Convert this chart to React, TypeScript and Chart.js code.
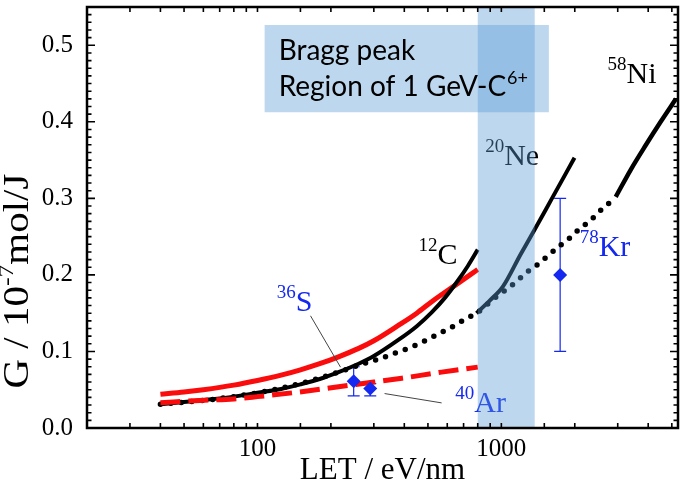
import { useEffect, useRef } from 'react';
import { Chart, registerables } from 'chart.js';

Chart.register(...registerables);

// ---------------- data (LET in eV/nm, G in 10^-7 mol/J) ----------------
const redSolidLET = [40, 50, 60, 80, 100, 125, 150, 180, 215, 260, 300, 378, 450, 518, 650, 800];
const redSolidG = [0.044, 0.047, 0.05, 0.056, 0.062, 0.069, 0.076, 0.084, 0.093, 0.104, 0.114, 0.134, 0.15, 0.165, 0.187, 0.207];

const redDashLET = [40, 58, 80, 100, 148, 215, 300, 391, 569, 800];
const redDashG = [0.033, 0.036, 0.038, 0.041, 0.047, 0.054, 0.06, 0.065, 0.073, 0.0795];

const c12LET = [40, 58, 80, 100, 125, 150, 180, 215, 260, 300, 378, 450, 518, 590, 665, 730, 800];
const c12G = [0.031, 0.036, 0.041, 0.046, 0.051, 0.057, 0.064, 0.073, 0.084, 0.094, 0.115, 0.133, 0.151, 0.171, 0.193, 0.212, 0.233];

const dottedLET = [40, 60, 80, 100, 150, 215, 260, 314, 367, 430, 487, 569, 645, 709, 791, 940, 1048, 1151, 1265, 1413, 1552, 1720, 1903, 2089, 2317, 2545, 2815, 2945];
const dottedG = [0.031, 0.036, 0.041, 0.046, 0.058, 0.073, 0.082, 0.09, 0.098, 0.106, 0.114, 0.125, 0.134, 0.142, 0.15, 0.17, 0.181, 0.191, 0.203, 0.214, 0.225, 0.237, 0.248, 0.26, 0.271, 0.284, 0.296, 0.302];

const ne20LET = [791, 900, 1016, 1200, 1368, 1600, 1995];
const ne20G = [0.15, 0.167, 0.185, 0.227, 0.259, 0.298, 0.353];

const ni58LET = [2945, 3400, 3900, 4500, 5200];
const ni58G = [0.302, 0.338, 0.369, 0.4, 0.43];

const expLET = [248, 290, 1742];
const expG = [0.061, 0.0515, 0.2];
const expLow = [0.042, 0.042, 0.1];
const expHigh = [0.08, 0.058, 0.3];

const sLeaderLET = [165, 219];
const sLeaderG = [0.1466, 0.0795];
const arLeaderLET = [332, 569];
const arLeaderG = [0.045, 0.0328];

const labelSup = ['58', '20', '12', '36', '40', '78'];
const labelMain = ['Ni', 'Ne', 'C', 'S', 'Ar', 'Kr'];
const labelLET = [2726, 858, 457, 120, 647, 2094];
const labelG = [0.451, 0.3437, 0.214, 0.153, 0.0208, 0.2244];
const labelBlue = [false, false, false, true, true, true];

const braggBandLET = [800, 1370];
const braggBoxLET = [107, 1566];
const braggBoxG = [0.4125, 0.5265];

const xLabeledTicks = [100, 1000];
const xMin = 20;
const xMax = 5300;
const yMin = 0;
const yMax = 0.55;
const yMinorStep = 0.01;

const xTitle = 'LET / eV/nm';
const yTitleParts = ['G / 10', '-7', 'mol/J'];
const braggLine1 = 'Bragg peak';
const braggLine2 = ['Region of 1 GeV-C', '6+'];

// ---------------- styles ----------------
const BLUE = 'rgb(20,40,240)';
const RED = 'rgb(250,12,12)';
const SERIF = '"Liberation Serif", "Times New Roman", serif';
const SANS = 'Lato, "Open Sans", sans-serif';
const BAND = 'rgba(91,155,213,0.4)';

const pts = (xs: number[], ys: number[]) => xs.map((x, i) => ({ x, y: ys[i] }));

const errorBarPlugin = {
  id: 'errorBars',
  beforeDatasetsDraw(chart: any) {
    const { ctx, scales } = chart;
    const xs = scales.x, ys = scales.y;
    ctx.save();
    ctx.strokeStyle = BLUE;
    ctx.lineWidth = 1.2;
    expLET.forEach((x, i) => {
      const px = xs.getPixelForValue(x);
      const lo = ys.getPixelForValue(expLow[i]);
      const hi = ys.getPixelForValue(expHigh[i]);
      ctx.beginPath();
      ctx.moveTo(px, lo); ctx.lineTo(px, hi);
      ctx.moveTo(px - 6, lo); ctx.lineTo(px + 6, lo);
      ctx.moveTo(px - 6, hi); ctx.lineTo(px + 6, hi);
      ctx.stroke();
    });
    ctx.restore();
  },
};

const overlayPlugin = {
  id: 'overlays',
  afterDatasetsDraw(chart: any) {
    const { ctx, scales, chartArea: a } = chart;
    const xs = scales.x, ys = scales.y;
    ctx.save();
    ctx.textBaseline = 'alphabetic';
    ctx.textAlign = 'left';
    labelMain.forEach((m, i) => {
      const px = xs.getPixelForValue(labelLET[i]);
      const py = ys.getPixelForValue(labelG[i]);
      ctx.fillStyle = labelBlue[i] ? BLUE : '#000';
      ctx.font = `19px ${SERIF}`;
      ctx.fillText(labelSup[i], px, py - 13);
      const w = ctx.measureText(labelSup[i]).width;
      ctx.font = `30px ${SERIF}`;
      ctx.fillText(m, px + w, py);
    });
    const b0 = xs.getPixelForValue(braggBandLET[0]);
    const b1 = xs.getPixelForValue(braggBandLET[1]);
    ctx.fillStyle = BAND;
    ctx.fillRect(b0, a.top, b1 - b0, a.bottom - a.top);
    const x0 = xs.getPixelForValue(braggBoxLET[0]);
    const x1 = xs.getPixelForValue(braggBoxLET[1]);
    const yTop = ys.getPixelForValue(braggBoxG[1]);
    const yBot = ys.getPixelForValue(braggBoxG[0]);
    ctx.fillRect(x0, yTop, x1 - x0, yBot - yTop);
    ctx.fillStyle = '#000';
    ctx.font = `28px ${SANS}`;
    ctx.fillText(braggLine1, x0 + 14, yTop + 35);
    ctx.fillText(braggLine2[0], x0 + 14, yTop + 71);
    const w2 = ctx.measureText(braggLine2[0]).width;
    ctx.font = `18px ${SANS}`;
    ctx.fillText(braggLine2[1], x0 + 14 + w2 + 1, yTop + 59);
    ctx.restore();
  },
};

const framePlugin = {
  id: 'frame',
  afterDraw(chart: any) {
    const { ctx, scales, chartArea: a } = chart;
    const xs = scales.x, ys = scales.y;
    ctx.save();
    ctx.strokeStyle = '#000';
    ctx.lineWidth = 1.6;
    ctx.beginPath();
    xs.ticks.forEach((t: any) => {
      const px = xs.getPixelForValue(t.value);
      if (px < a.left + 2 || px > a.right - 2) return;
      ctx.moveTo(px, a.bottom); ctx.lineTo(px, a.bottom - 5);
      ctx.moveTo(px, a.top); ctx.lineTo(px, a.top + 5);
    });
    const n = Math.round((yMax - yMin) / yMinorStep);
    for (let i = 0; i <= n; i++) {
      const v = yMin + i * yMinorStep;
      const py = ys.getPixelForValue(v);
      const len = i % 10 === 0 ? 8 : 4.5;
      ctx.moveTo(a.left, py); ctx.lineTo(a.left + len, py);
      ctx.moveTo(a.right, py); ctx.lineTo(a.right - len, py);
    }
    ctx.stroke();
    ctx.lineWidth = 2.5;
    ctx.strokeRect(a.left, a.top, a.right - a.left, a.bottom - a.top);

    // y axis title with superscript
    ctx.fillStyle = '#000';
    ctx.textBaseline = 'middle';
    ctx.textAlign = 'left';
    const cy = ys.getPixelForValue(0.192);
    ctx.translate(19, cy);
    ctx.rotate(-Math.PI / 2);
    ctx.scale(1.17, 1);
    ctx.font = `35px ${SERIF}`;
    const w0 = ctx.measureText(yTitleParts[0]).width;
    const w2 = ctx.measureText(yTitleParts[2]).width;
    ctx.font = `22px ${SERIF}`;
    const w1 = ctx.measureText(yTitleParts[1]).width;
    let x = -(w0 + w1 + w2) / 2;
    ctx.font = `35px ${SERIF}`;
    ctx.fillText(yTitleParts[0], x, 0);
    x += w0;
    ctx.font = `22px ${SERIF}`;
    ctx.fillText(yTitleParts[1], x, -12);
    x += w1;
    ctx.font = `35px ${SERIF}`;
    ctx.fillText(yTitleParts[2], x, 0);
    ctx.restore();
  },
};

export default function App() {
  const ref = useRef<HTMLCanvasElement>(null);
  useEffect(() => {
    const canvas = ref.current!;
    const lineDs = (label: string, xs: number[], ys: number[], color: string, width: number, extra: any = {}) => ({
      label,
      data: pts(xs, ys),
      showLine: true,
      borderColor: color,
      backgroundColor: color,
      borderWidth: width,
      pointRadius: 0,
      pointHoverRadius: 0,
      cubicInterpolationMode: 'monotone',
      fill: false,
      ...extra,
    });
    const chart = new Chart(canvas, {
      type: 'scatter',
      data: {
        datasets: [
          {
            label: 'experiments',
            data: pts(expLET, expG),
            showLine: false,
            pointStyle: 'rectRot',
            pointRadius: 7,
            backgroundColor: BLUE,
            borderColor: BLUE,
            borderWidth: 0,
          } as any,
          lineDs('36S leader', sLeaderLET, sLeaderG, '#444', 1),
          lineDs('40Ar leader', arLeaderLET, arLeaderG, '#444', 1),
          lineDs('red dashed', redDashLET, redDashG, RED, 5, { borderDash: [20, 8] }),
          lineDs('12C', c12LET, c12G, '#000', 4),
          lineDs('red solid', redSolidLET, redSolidG, RED, 5),
          lineDs('dotted', dottedLET, dottedG, '#000', 5.5, { borderDash: [0, 10.5], borderCapStyle: 'round' }),
          lineDs('20Ne', ne20LET, ne20G, '#000', 4),
          lineDs('58Ni', ni58LET, ni58G, '#000', 4.5),
        ],
      },
      options: {
        animation: false,
        responsive: false,
        maintainAspectRatio: false,
        events: [],
        layout: { padding: { top: 5, right: 5, left: 0, bottom: 0 } },
        plugins: { legend: { display: false }, tooltip: { enabled: false } },
        scales: {
          x: {
            type: 'logarithmic',
            min: xMin,
            max: xMax,
            grid: { display: false },
            border: { display: false },
            ticks: {
              autoSkip: false,
              maxRotation: 0,
              minRotation: 0,
              padding: -2,
              color: '#000',
              font: { family: SERIF, size: 25 },
              callback: (v: any) => (xLabeledTicks.some((t) => Math.abs(t - Number(v)) < 1e-6) ? String(v) : ''),
            },
            title: {
              display: true,
              text: xTitle,
              color: '#000',
              font: { family: SERIF, size: 31 },
              padding: { top: 0, bottom: 2 },
            },
            afterFit: (s: any) => {
              s.height = 63;
              s.paddingLeft = 0;
              s.paddingRight = 0;
            },
          },
          y: {
            type: 'linear',
            min: yMin,
            max: yMax,
            grid: { display: false },
            border: { display: false },
            ticks: {
              stepSize: 0.1,
              padding: 6,
              color: '#000',
              font: { family: SERIF, size: 25 },
              callback: (v: any) => Number(v).toFixed(1),
            },
            afterBuildTicks: (s: any) => {
              s.ticks = s.ticks.filter((t: any) => Math.abs(t.value * 10 - Math.round(t.value * 10)) < 1e-6);
            },
            afterFit: (s: any) => {
              s.width = 87;
              s.paddingTop = 0;
              s.paddingBottom = 0;
            },
          },
        },
      } as any,
      plugins: [errorBarPlugin, overlayPlugin, framePlugin],
    });
    return () => chart.destroy();
  }, []);
  return (
    <div style={{ position: 'absolute', left: 0, top: 0, width: 685, height: 491, background: '#fff' }}>
      <canvas ref={ref} width={685} height={491} />
    </div>
  );
}
